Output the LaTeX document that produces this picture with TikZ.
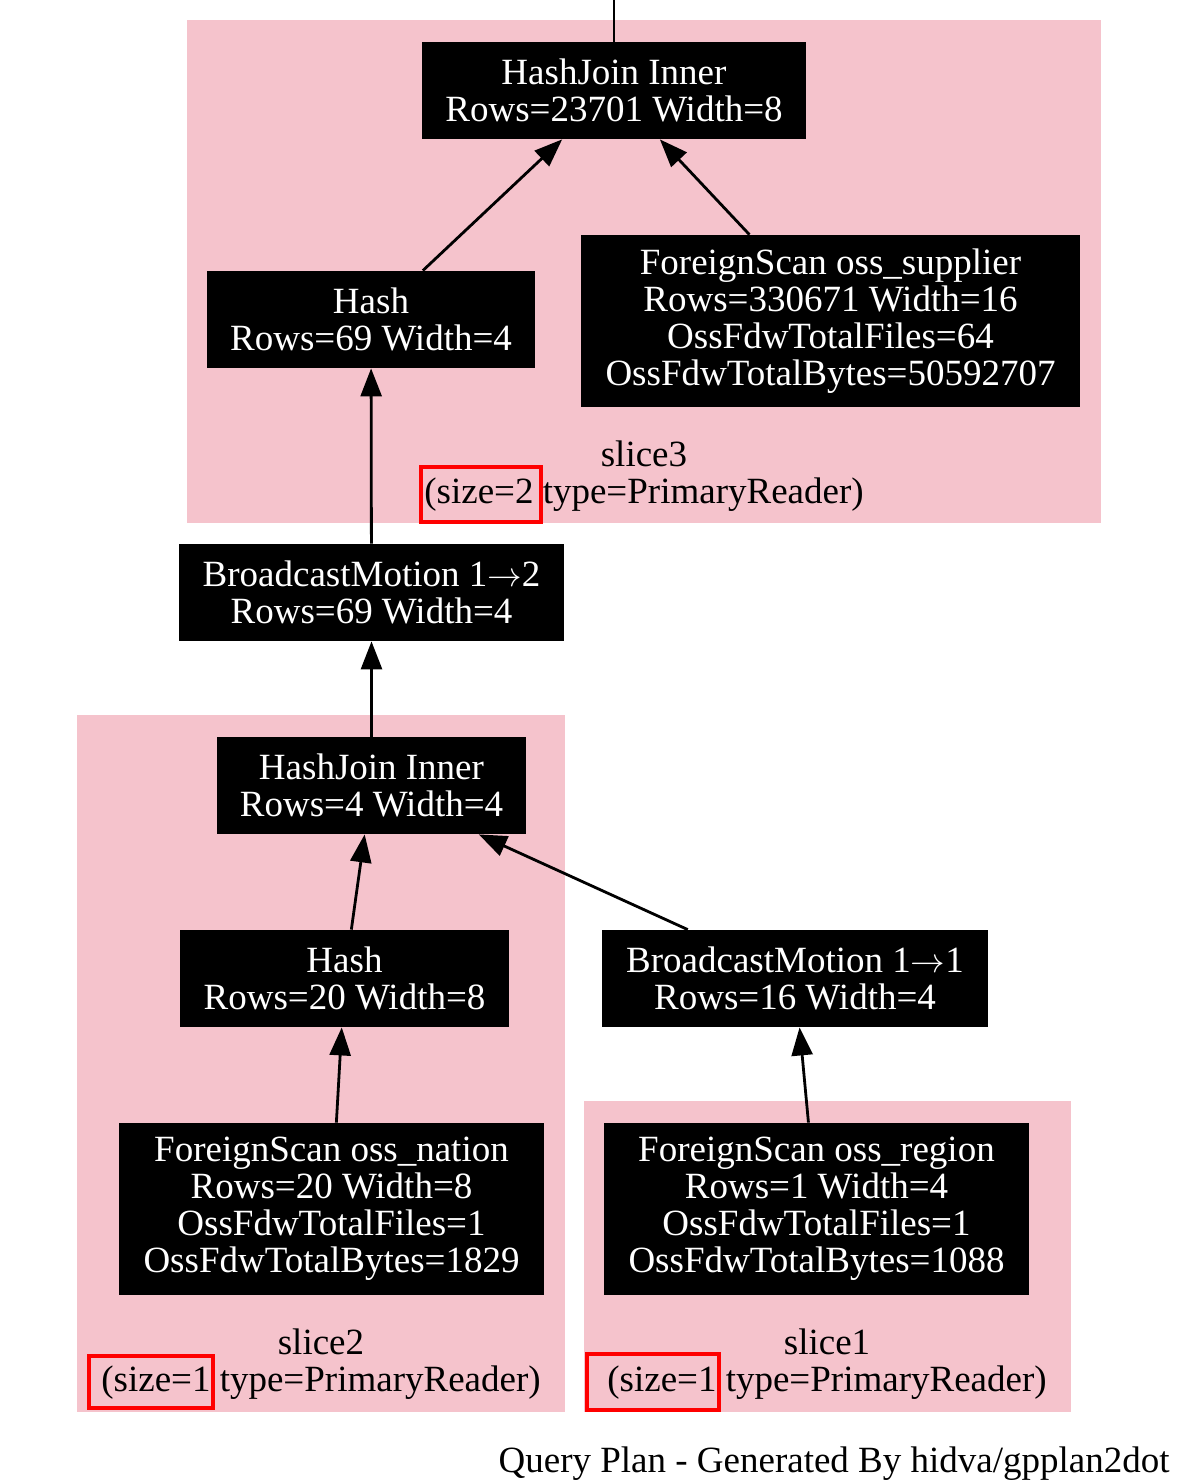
\documentclass[tikz,border=0pt]{standalone}
\usepackage{fontspec}
\setmainfont{Liberation Serif}
\usetikzlibrary{arrows.meta}
\definecolor{clpink}{RGB}{245,195,204}
\begin{document}
\begin{tikzpicture}[x=0.5pt,y=-0.5pt,
  font=\fontsize{18.5}{18.5}\selectfont,
  cluster/.style={fill=clpink,draw=none},
  plan/.style={fill=black,text=white,align=center,inner sep=0pt,draw=none},
  edge/.style={line width=1.4pt,-{Triangle[length=14pt,width=10.5pt]}},
  redmark/.style={draw=red,line width=2pt,inner sep=0pt,fill=none},
  clabel/.style={align=center,inner sep=0pt,text=black}]
\useasboundingbox (0,0) rectangle (1190,1482);
% clusters
\fill[cluster] (187,20) rectangle (1101,523);
\fill[cluster] (77,715) rectangle (565,1412);
\fill[cluster] (584,1101) rectangle (1071,1412);
% nodes
\node[plan,minimum width=192pt,minimum height=48.5pt] (hj3) at (614,90.5) {HashJoin Inner\\Rows=23701 Width=8};
\node[plan,minimum width=164pt,minimum height=48.5pt] (hash3) at (371,319.5) {Hash\\Rows=69 Width=4};
\node[plan,minimum width=249.5pt,minimum height=86pt] (fs3) at (830.5,321) {ForeignScan oss\_supplier\\Rows=330671 Width=16\\OssFdwTotalFiles=64\\OssFdwTotalBytes=50592707};
\node[plan,minimum width=192.5pt,minimum height=48.5pt] (bm12) at (371.5,592.5) {BroadcastMotion 1\(\rightarrow\)2\\Rows=69 Width=4};
\node[plan,minimum width=154.5pt,minimum height=48.5pt] (hj2) at (371.5,785.5) {HashJoin Inner\\Rows=4 Width=4};
\node[plan,minimum width=164.5pt,minimum height=48.5pt] (hash2) at (344.5,978.5) {Hash\\Rows=20 Width=8};
\node[plan,minimum width=193pt,minimum height=48.5pt] (bm11) at (795,978.5) {BroadcastMotion 1\(\rightarrow\)1\\Rows=16 Width=4};
\node[plan,minimum width=212.5pt,minimum height=86pt] (fs2) at (331.5,1209) {ForeignScan oss\_nation\\Rows=20 Width=8\\OssFdwTotalFiles=1\\OssFdwTotalBytes=1829};
\node[plan,minimum width=212.5pt,minimum height=86pt] (fs1) at (816.5,1209) {ForeignScan oss\_region\\Rows=1 Width=4\\OssFdwTotalFiles=1\\OssFdwTotalBytes=1088};
% cluster labels
\node[clabel] (l3) at (644,476) {slice3\\(size=2 type=PrimaryReader)};
\node[clabel] (l2) at (321,1364) {slice2\\(size=1 type=PrimaryReader)};
\node[clabel] (l1) at (827,1364) {slice1\\(size=1 type=PrimaryReader)};
% red marks
\node[redmark,minimum width=60pt,minimum height=27.5pt] (m3) at (481,494.5) {};
\node[redmark,minimum width=62pt,minimum height=26pt] (m2) at (151,1382) {};
\node[redmark,minimum width=66pt,minimum height=28pt] (m1) at (653,1382) {};
% edges
\coordinate (top) at (614,0);
\draw[line width=1.4pt] (top) -- (hj3);
\draw[edge] (hash3) -- (hj3);
\draw[edge] (fs3) -- (hj3);
\draw[edge] (bm12) -- (hash3);
\draw[edge] (hj2) -- (bm12);
\draw[edge] (hash2) -- (hj2);
\draw[edge] (bm11) -- (hj2);
\draw[edge] (fs2) -- (hash2);
\draw[edge] (fs1) -- (bm11);
% footer
\node[anchor=east,inner sep=0pt] (foot) at (1170,1464) {Query Plan - Generated By hidva/gpplan2dot};
\end{tikzpicture}
\end{document}
